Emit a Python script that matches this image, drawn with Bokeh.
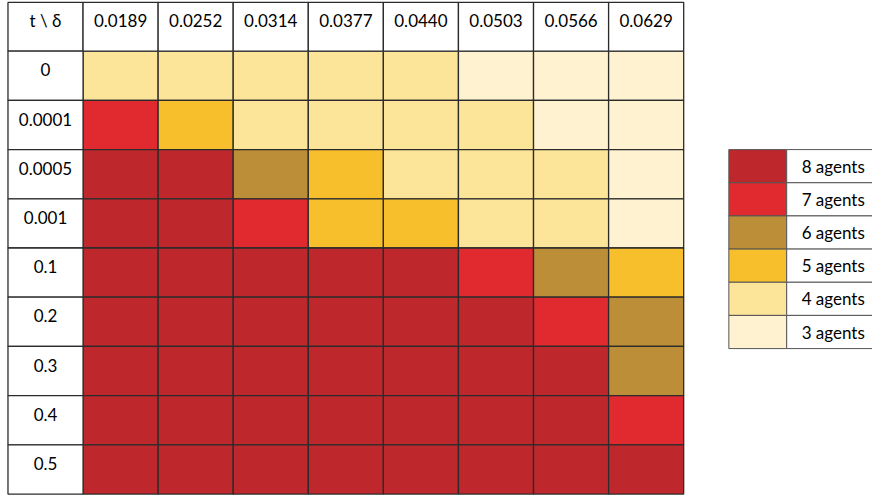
from bokeh.plotting import figure
from bokeh.models import Range1d
from bokeh.core.properties import value
from bokeh.embed import file_html
from bokeh.resources import INLINE

# ---- data ----
deltas = ["0.0189", "0.0252", "0.0314", "0.0377", "0.0440", "0.0503", "0.0566", "0.0629"]
t_values = ["0", "0.0001", "0.0005", "0.001", "0.1", "0.2", "0.3", "0.4", "0.5"]
corner_label = "t \\ δ"
agents = [
    [4, 4, 4, 4, 4, 3, 3, 3],
    [7, 5, 4, 4, 4, 4, 3, 3],
    [8, 8, 6, 5, 4, 4, 4, 3],
    [8, 8, 7, 5, 5, 4, 4, 3],
    [8, 8, 8, 8, 8, 7, 6, 5],
    [8, 8, 8, 8, 8, 8, 7, 6],
    [8, 8, 8, 8, 8, 8, 8, 6],
    [8, 8, 8, 8, 8, 8, 8, 7],
    [8, 8, 8, 8, 8, 8, 8, 8],
]
legend_levels = [8, 7, 6, 5, 4, 3]
legend_labels = [f"{n} agents" for n in legend_levels]

# ---- style ----
palette = {
    8: "#BE282D",
    7: "#E02A2F",
    6: "#BC8E38",
    5: "#F8BF2D",
    4: "#FCE499",
    3: "#FEF2D0",
}
FONT = value("Lato")
FS = "17px"
GRID = "#2b2b2b"

# layout (reference pixel coordinates)
table_left = 7.5
col_w = 75.25
table_top = 3.0
head_bottom = 52.5
row_h = 50.0
leg_left = 730.0
leg_sw_w = 58.0
leg_top = 152.5
leg_row_h = 33.7
leg_text_w = 110.0

p = figure(width=872, height=496, output_backend="svg", toolbar_location=None,
           x_range=Range1d(0, 874), y_range=Range1d(505, 1),
           min_border=0, outline_line_color=None)
p.axis.visible = False
p.grid.visible = False
p.background_fill_color = "white"

# data cells
xs, ys, cs = [], [], []
for i, row in enumerate(agents):
    for j, n in enumerate(row):
        xs.append(table_left + (j + 1.5) * col_w)
        ys.append(head_bottom + (i + 0.5) * row_h)
        cs.append(palette[n])
p.rect(x=xs, y=ys, width=col_w, height=row_h, fill_color=cs,
       line_color=GRID, line_width=1.3)

# header cells
hx = [table_left + (j + 0.5) * col_w for j in range(len(deltas) + 1)]
hy_c = (table_top + head_bottom) / 2
p.rect(x=hx, y=[hy_c] * len(hx), width=col_w, height=head_bottom - table_top,
       fill_color="white", line_color=GRID, line_width=1.3)
p.text(x=hx, y=[21] * len(hx), text=[corner_label] + deltas,
       text_align="center", text_baseline="middle",
       text_font=FONT, text_font_size=FS, text_color="black")

# row label cells
rx = [table_left + 0.5 * col_w] * len(t_values)
ry = [head_bottom + (i + 0.5) * row_h for i in range(len(t_values))]
p.rect(x=rx, y=ry, width=col_w, height=row_h, fill_color="white",
       line_color=GRID, line_width=1.3)
p.text(x=rx, y=[head_bottom + i * row_h + 19 for i in range(len(t_values))],
       text=t_values, text_align="center", text_baseline="middle",
       text_font=FONT, text_font_size=FS, text_color="black")

# legend
ly = [leg_top + (k + 0.5) * leg_row_h for k in range(len(legend_levels))]
p.rect(x=[leg_left + leg_sw_w / 2] * len(ly), y=ly, width=leg_sw_w, height=leg_row_h,
       fill_color=[palette[n] for n in legend_levels], line_color="#555555", line_width=1)
p.rect(x=[leg_left + leg_sw_w + leg_text_w / 2] * len(ly), y=ly, width=leg_text_w,
       height=leg_row_h, fill_color="white", line_color="#555555", line_width=1)
p.text(x=[803] * len(ly), y=ly, text=legend_labels, text_align="left",
       text_baseline="middle", text_font=FONT, text_font_size=FS, text_color="black")

open("out.html", "w").write(file_html(p, INLINE))
